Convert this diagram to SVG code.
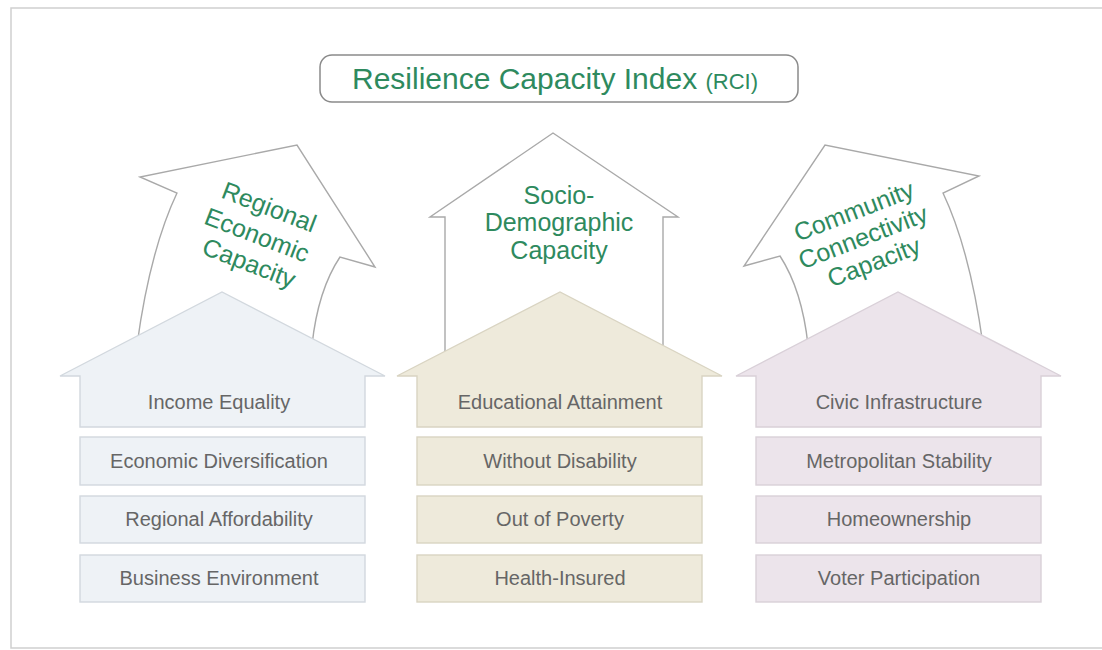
<svg xmlns="http://www.w3.org/2000/svg" width="1102" height="650" viewBox="0 0 1102 650">
<defs>
<style>
.frame{fill:#fff;stroke:#cfcfcf;stroke-width:1.5}
.arrow{fill:#fff;stroke:#a9a9a9;stroke-width:1.4;stroke-linejoin:miter}
.cap{font-family:"Liberation Sans",Arial,sans-serif;font-size:25px;fill:#2e8a5e;text-anchor:middle}
.lbl{font-family:"Liberation Sans",Arial,sans-serif;font-size:20px;fill:#666;text-anchor:middle}
.blue{fill:#eef2f6;stroke:#d2d8de;stroke-width:1.4}
.beige{fill:#eeeadb;stroke:#d9d4c2;stroke-width:1.4}
.pink{fill:#ece4eb;stroke:#d9d0d8;stroke-width:1.4}
</style>
</defs>
<rect x="0" y="0" width="1102" height="650" fill="#fff"/>
<rect class="frame" x="11" y="8" width="1100" height="640"/>

<g id="title">
<rect x="320" y="55" width="478" height="47" rx="12" fill="#fff" stroke="#8a8a8a" stroke-width="1.5"/>
<text x="555" y="89" font-family="'Liberation Sans',Arial,sans-serif" font-size="30" fill="#2e8a5e" text-anchor="middle">Resilience Capacity Index <tspan font-size="22">(RCI)</tspan></text>
</g>

<g id="connectors">
<path id="arrow-left" class="arrow" d="M137,345 Q150,250 177,193 L140,177 L297,145 L375,267 L340,257 Q318,290 312,345 Z"/>
<path id="arrow-mid" class="arrow" d="M445,360 L445,217 L430,217 L553,133 L678,217 L663,217 L663,360 Z"/>
<path id="arrow-right" class="arrow" d="M983,345 Q970,250 943,193 L979,176 L825,145 L744,266 L780,256 Q802,290 808,345 Z"/>
</g>

<g id="cap-regional">
<text class="cap" transform="translate(266,215) rotate(21)">Regional</text>
<text class="cap" transform="translate(254,243) rotate(21)">Economic</text>
<text class="cap" transform="translate(246,271) rotate(21)">Capacity</text>
</g>
<g id="cap-socio">
<text class="cap" x="559" y="204">Socio-</text>
<text class="cap" x="559" y="231">Demographic</text>
<text class="cap" x="559" y="259">Capacity</text>
</g>
<g id="cap-community">
<text class="cap" transform="translate(857,219) rotate(-21)">Community</text>
<text class="cap" transform="translate(866,245) rotate(-21)">Connectivity</text>
<text class="cap" transform="translate(877,270) rotate(-21)">Capacity</text>
</g>

<g id="house-economic">
<path class="blue" d="M60,376 L222,292 L385,376 L365,376 L365,427 L80,427 L80,376 Z"/>
<text class="lbl" x="219" y="409">Income Equality</text>
</g>
<g id="box-econ-div"><rect class="blue" x="80" y="437" width="285" height="48"/><text class="lbl" x="219" y="468">Economic Diversification</text></g>
<g id="box-reg-aff"><rect class="blue" x="80" y="496" width="285" height="47"/><text class="lbl" x="219" y="526">Regional Affordability</text></g>
<g id="box-bus-env"><rect class="blue" x="80" y="555" width="285" height="47"/><text class="lbl" x="219" y="585">Business Environment</text></g>

<g id="house-socio">
<path class="beige" d="M397,376 L560,292 L722,376 L702,376 L702,427 L417,427 L417,376 Z"/>
<text class="lbl" x="560" y="409">Educational Attainment</text>
</g>
<g id="box-disab"><rect class="beige" x="417" y="437" width="285" height="48"/><text class="lbl" x="560" y="468">Without Disability</text></g>
<g id="box-poverty"><rect class="beige" x="417" y="496" width="285" height="47"/><text class="lbl" x="560" y="526">Out of Poverty</text></g>
<g id="box-health"><rect class="beige" x="417" y="555" width="285" height="47"/><text class="lbl" x="560" y="585">Health-Insured</text></g>

<g id="house-community">
<path class="pink" d="M736,376 L898,292 L1061,376 L1041,376 L1041,427 L756,427 L756,376 Z"/>
<text class="lbl" x="899" y="409">Civic Infrastructure</text>
</g>
<g id="box-metro"><rect class="pink" x="756" y="437" width="285" height="48"/><text class="lbl" x="899" y="468">Metropolitan Stability</text></g>
<g id="box-home"><rect class="pink" x="756" y="496" width="285" height="47"/><text class="lbl" x="899" y="526">Homeownership</text></g>
<g id="box-voter"><rect class="pink" x="756" y="555" width="285" height="47"/><text class="lbl" x="899" y="585">Voter Participation</text></g>
</svg>
